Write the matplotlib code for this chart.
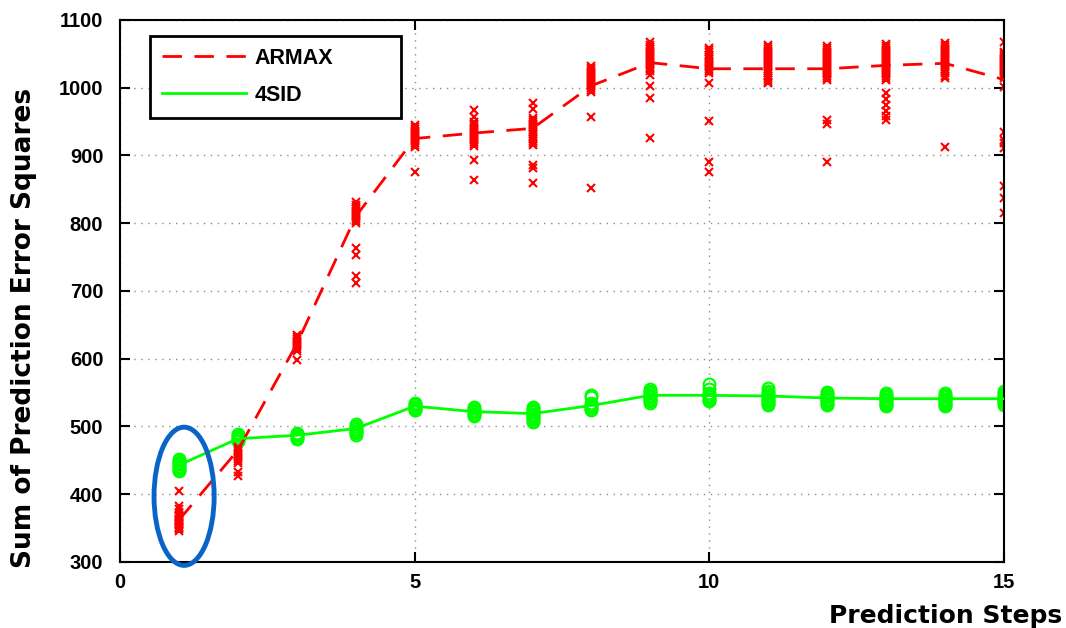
import matplotlib
matplotlib.use("Agg")
import matplotlib.pyplot as plt
from matplotlib.patches import Ellipse
import numpy as np

plt.rcParams['font.family'] = ['Liberation Sans', 'DejaVu Sans']

# Mean curves
steps = list(range(1, 16))
armax_mean = [362, 465, 622, 810, 925, 933, 940, 1003, 1037, 1028, 1028, 1028, 1033, 1036, 1012]
sid_mean = [443, 482, 487, 497, 530, 522, 519, 531, 546, 546, 545, 542, 541, 541, 541]

# Individual runs per prediction step
armax_runs = [
    [405, 383, 378, 372, 370, 368, 366, 364, 362, 360, 358, 356, 354, 352, 350, 348, 346],
    [470, 467, 464, 461, 458, 455, 452, 449, 446, 433, 427],
    [635, 632, 629, 626, 623, 620, 617, 614, 611, 598],
    [831, 827, 824, 821, 818, 815, 812, 809, 806, 803, 800, 763, 753, 722, 712],
    [945, 942, 939, 936, 933, 930, 927, 924, 921, 918, 915, 912, 875],
    [967, 957, 950, 947, 944, 941, 938, 935, 932, 929, 926, 923, 920, 917, 914, 893, 864],
    [978, 968, 955, 952, 949, 946, 943, 940, 937, 934, 931, 928, 925, 922, 919, 916, 886, 881, 859],
    [1032, 1029, 1026, 1023, 1020, 1017, 1014, 1011, 1008, 1005, 1002, 999, 996, 993, 957, 852],
    [1068, 1063, 1060, 1057, 1054, 1051, 1048, 1045, 1042, 1039, 1036, 1033, 1030, 1027, 1024, 1019, 1002, 985, 926],
    [1058, 1055, 1052, 1049, 1046, 1043, 1040, 1037, 1034, 1031, 1028, 1025, 1022, 1007, 951, 890, 876],
    [1063, 1060, 1057, 1054, 1051, 1048, 1045, 1042, 1039, 1036, 1033, 1030, 1027, 1024, 1021, 1018, 1015, 1012, 1009, 1007],
    [1062, 1059, 1056, 1053, 1050, 1047, 1044, 1041, 1038, 1035, 1032, 1029, 1026, 1023, 1020, 1017, 1014, 1011, 952, 947, 890],
    [1065, 1062, 1059, 1056, 1053, 1050, 1047, 1044, 1041, 1038, 1035, 1032, 1029, 1026, 1023, 1020, 1017, 1014, 1011,
     992, 983, 975, 965, 958, 953],
    [1066, 1063, 1060, 1057, 1054, 1051, 1048, 1045, 1042, 1039, 1036, 1033, 1030, 1027, 1024, 1021, 1018, 1015, 912],
    [1067, 1053, 1050, 1047, 1044, 1041, 1038, 1035, 1032, 1029, 1026, 1023, 1020, 1017, 1014, 1001,
     935, 923, 919, 911, 855, 837, 815],
]
sid_runs = [
    [452, 450, 448, 446, 444, 442, 440, 438, 436, 434],
    [489, 487, 485, 483, 481, 479, 478],
    [491, 489, 487, 485, 483, 482],
    [503, 500, 498, 496, 494, 492, 490, 488],
    [535, 533, 531, 529, 527, 525, 524],
    [529, 527, 525, 523, 521, 519, 517, 515],
    [529, 527, 525, 523, 521, 519, 517, 515, 513, 511, 508, 506],
    [547, 543, 534, 532, 530, 528, 526, 525],
    [555, 553, 551, 549, 547, 545, 543, 541, 539, 537, 535],
    [562, 556, 549, 547, 545, 543, 541, 539, 537],
    [557, 553, 549, 547, 545, 543, 541, 539, 537, 535, 533, 532],
    [551, 549, 547, 545, 543, 541, 539, 537, 535, 533, 531],
    [549, 547, 545, 543, 541, 539, 537, 535, 533, 531, 530],
    [549, 547, 545, 543, 541, 539, 537, 535, 533, 531, 530],
    [552, 550, 548, 546, 544, 542, 540, 538, 536, 534, 532],
]

red = '#FF0000'
green = '#00FF00'

fig = plt.figure(figsize=(10.66, 6.28), dpi=100)
ax = fig.add_axes([0.1126, 0.1051, 0.8292, 0.8631])

for s, vals in zip(steps, sid_runs):
    ax.plot(np.full(len(vals), s), vals, 'o', ms=8.5, mfc='none', mec=green, mew=1.5, zorder=2)
for s, vals in zip(steps, armax_runs):
    ax.plot(np.full(len(vals), s), vals, 'x', ms=5.5, color=red, mew=1.5, zorder=2)

ax.plot(steps, armax_mean, color=red, lw=2, linestyle=(0, (7, 4.5)), label='ARMAX', zorder=3)
ax.plot(steps, sid_mean, color=green, lw=2, label='4SID', zorder=3)

ax.add_patch(Ellipse((1.087, 397), width=1.02, height=204, fill=False,
                     edgecolor='#0A64C8', lw=3.5, clip_on=False, zorder=5))

ax.set_xlim(0, 15)
ax.set_ylim(300, 1100)
ax.set_xticks([0, 5, 10, 15])
ax.set_yticks(range(300, 1101, 100))
ax.grid(True, color='#8c8c8c', linestyle=(0, (1, 4)), lw=1)
ax.tick_params(direction='in', length=7, width=1.5, top=True, right=True,
               labelsize=14.5)
ax.tick_params(axis='y', pad=12)
ax.tick_params(axis='x', pad=8)
for lab in ax.get_xticklabels() + ax.get_yticklabels():
    lab.set_fontweight('bold')
for sp in ax.spines.values():
    sp.set_linewidth(1.5)

leg = ax.legend(loc='upper left', bbox_to_anchor=(0.0339, 0.8192, 0.284, 0.1513),
                mode='expand', borderaxespad=0, fancybox=False, framealpha=1,
                edgecolor='black', handlelength=3.9, handletextpad=0.4,
                borderpad=0.55, labelspacing=0.75,
                prop={'weight': 'bold', 'size': 15.5})
leg.get_frame().set_linewidth(2)

fig.text(24 / 1066, 0.478, 'Sum of Prediction Error Squares', rotation=90,
         ha='center', va='center', fontsize=19, fontweight='bold', family='DejaVu Sans')
fig.text(1062 / 1066, 0.0, 'Prediction Steps', ha='right', va='bottom',
         fontsize=18, fontweight='bold', family='DejaVu Sans')

fig.savefig('out.png', dpi=100)
